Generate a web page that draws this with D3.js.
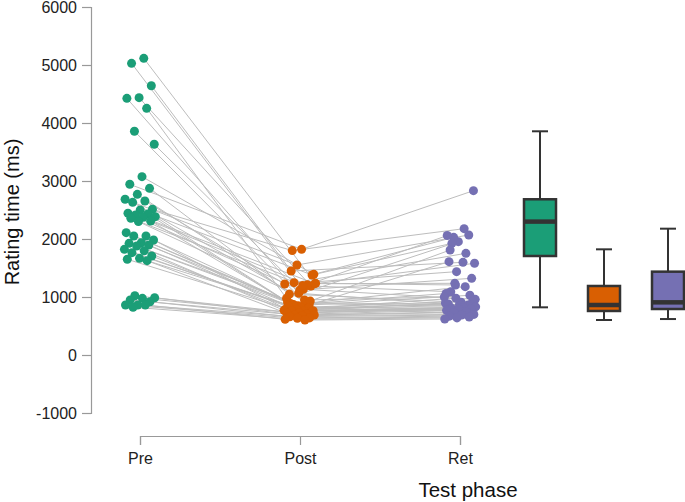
<!DOCTYPE html>
<html>
<head>
<meta charset="utf-8">
<script src="https://cdn.jsdelivr.net/npm/d3@7"></script>
<style>
  body { margin: 0; background: #fff; }
  svg { display: block; font-family: "Liberation Sans", Arial, sans-serif; }
</style>
</head>
<body>
<div id="chart"></div>
<script>
// one entry per participant, same order in each phase
const phases = ['Pre', 'Post', 'Ret'];
const colors = ['#1b9e77', '#d95f02', '#7570b3'];
const yTicks = [-1000, 0, 1000, 2000, 3000, 4000, 5000, 6000];

const preValues = [5115, 5029, 4643, 4437, 4425, 4253, 3857, 3633, 3075, 2943,
  2874, 2770, 2685, 2655, 2632, 2512, 2500, 2443, 2431, 2414,
  2385, 2374, 2357, 2310, 2300, 2109, 2052, 2052, 1983, 1936,
  1925, 1897, 1879, 1822, 1798, 1764, 1707, 1667, 1650, 1626,
  1022, 988, 977, 948, 919, 862, 862, 862, 822];
const postValues = [1236, 1133, 1448, 1190, 1064, 977, 880, 1247, 1391, 1822,
  1050, 862, 1552, 1224, 948, 1800, 1380, 1121, 905, 1210,
  830, 1230, 1200, 890, 930, 850, 795, 776, 870, 765,
  820, 840, 805, 785, 770, 760, 759, 740, 730, 719,
  705, 690, 690, 680, 660, 640, 633, 615, 603];
const retValues = [1207, 960, 1598, 1091, 850, 1954, 1060, 1753, 2029, 2833,
  908, 1609, 2069, 1437, 1000, 2178, 1925, 1322, 870, 2060,
  800, 1236, 1581, 840, 1810, 1030, 780, 895, 1178, 760,
  930, 715, 880, 860, 980, 830, 820, 810, 795, 793,
  770, 745, 730, 700, 690, 670, 655, 640, 620];

// box positions on the same x axis as the phases
const boxPositions = [3.5, 3.9, 4.3];

const series = [preValues, postValues, retValues];
const width = 685, height = 502;

const svg = d3.select('#chart').append('svg')
  .attr('width', width)
  .attr('height', height);

const x = d3.scaleLinear().domain([1, 3]).range([140, 460]);
const y = d3.scaleLinear().domain([-1000, 6000]).range([413, 7]);

// spread points sideways a little, same way every time
const jitter = (i, k) => (((i + 1) * 0.618034 + k * 0.37) % 1 - 0.5) * 0.2;

const participants = preValues.map((d, i) =>
  series.map((s, k) => ({ x: k + 1 + jitter(i, k), v: s[i], k })));

// connecting lines first
const line = d3.line().x(d => x(d.x)).y(d => y(d.v));
svg.append('g')
  .selectAll('path')
  .data(participants)
  .enter()
  .append('path')
  .attr('d', line)
  .attr('fill', 'none')
  .attr('stroke', '#bdbdbd')
  .attr('stroke-width', 1);

svg.append('g')
  .selectAll('circle')
  .data(participants.flat())
  .enter()
  .append('circle')
  .attr('cx', d => x(d.x))
  .attr('cy', d => y(d.v))
  .attr('r', 4.5)
  .attr('fill', d => colors[d.k]);

// boxplots, whiskers to most extreme value within 1.5 IQR
const boxW = 0.2, capW = 0.1;
series.forEach((s, k) => {
  const sorted = s.slice().sort(d3.ascending);
  const q1 = d3.quantile(sorted, 0.25);
  const med = d3.quantile(sorted, 0.5);
  const q3 = d3.quantile(sorted, 0.75);
  const iqr = q3 - q1;
  const lo = d3.min(sorted.filter(v => v >= q1 - 1.5 * iqr));
  const hi = d3.max(sorted.filter(v => v <= q3 + 1.5 * iqr));
  const cx = boxPositions[k];
  const g = svg.append('g').attr('stroke', '#333').attr('stroke-width', 2);

  g.append('line').attr('x1', x(cx)).attr('x2', x(cx)).attr('y1', y(hi)).attr('y2', y(q3));
  g.append('line').attr('x1', x(cx)).attr('x2', x(cx)).attr('y1', y(q1)).attr('y2', y(lo));
  g.append('line').attr('x1', x(cx - capW / 2)).attr('x2', x(cx + capW / 2)).attr('y1', y(hi)).attr('y2', y(hi));
  g.append('line').attr('x1', x(cx - capW / 2)).attr('x2', x(cx + capW / 2)).attr('y1', y(lo)).attr('y2', y(lo));
  g.append('rect')
    .attr('x', x(cx - boxW / 2))
    .attr('y', y(q3))
    .attr('width', x(cx + boxW / 2) - x(cx - boxW / 2))
    .attr('height', y(q1) - y(q3))
    .attr('fill', colors[k])
    .attr('stroke-width', 2.5);
  g.append('line')
    .attr('x1', x(cx - boxW / 2)).attr('x2', x(cx + boxW / 2))
    .attr('y1', y(med)).attr('y2', y(med))
    .attr('stroke-width', 4.5);
});

// axes
const yAxis = svg.append('g')
  .attr('transform', 'translate(91,0)')
  .call(d3.axisLeft(y).tickValues(yTicks).tickSize(9).tickPadding(5).tickFormat(d => String(d)));
const xAxis = svg.append('g')
  .attr('transform', 'translate(0,436)')
  .call(d3.axisBottom(x).tickValues([1, 2, 3]).tickSize(9).tickPadding(8).tickFormat((d, i) => phases[i]));

[yAxis, xAxis].forEach(a => {
  a.select('.domain').attr('stroke', '#999').attr('stroke-width', 1.2);
  a.selectAll('.tick line').attr('stroke', '#999').attr('stroke-width', 1.2);
  a.selectAll('.tick text').attr('fill', '#222').style('font-size', '16px');
});

svg.append('text')
  .attr('transform', 'translate(19,212) rotate(-90)')
  .attr('text-anchor', 'middle')
  .attr('fill', '#111')
  .style('font-size', '20px')
  .text('Rating time (ms)');

svg.append('text')
  .attr('x', 468)
  .attr('y', 497)
  .attr('text-anchor', 'middle')
  .attr('fill', '#111')
  .style('font-size', '20.5px')
  .text('Test phase');
</script>
</body>
</html>
